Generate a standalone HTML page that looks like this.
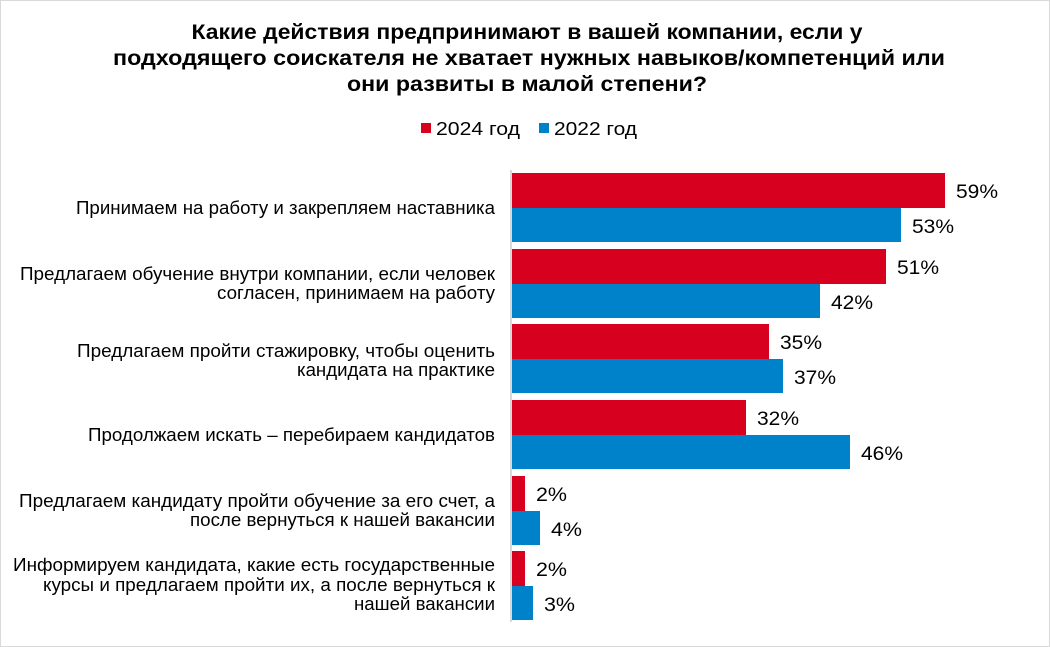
<!DOCTYPE html>
<html><head><meta charset="utf-8"><style>
body{margin:0;background:#fff}
svg{display:block}
text{font-family:"Liberation Sans","DejaVu Sans",sans-serif}
</style></head><body>
<svg width="1050" height="647" viewBox="0 0 1050 647">
<rect x="0.5" y="0.5" width="1049" height="646" fill="#fff" stroke="#d9d9d9"/>
<g font-weight="bold" font-size="21" text-anchor="middle" fill="#000">
<text x="527" y="39" textLength="671" lengthAdjust="spacingAndGlyphs">Какие действия предпринимают в вашей компании, если у</text>
<text x="529" y="65" textLength="832" lengthAdjust="spacingAndGlyphs">подходящего соискателя не хватает нужных навыков/компетенций или</text>
<text x="527" y="91" textLength="360" lengthAdjust="spacingAndGlyphs">они развиты в малой степени?</text>
</g>
<rect x="421" y="123" width="10" height="10" fill="#d7001f"/>
<text x="436" y="135" font-size="18" textLength="84" lengthAdjust="spacingAndGlyphs">2024 год</text>
<rect x="539" y="123" width="10" height="10" fill="#0082ca"/>
<text x="554" y="135" font-size="18" textLength="83" lengthAdjust="spacingAndGlyphs">2022 год</text>
<line x1="511" y1="170" x2="511" y2="622" stroke="#d9d9d9" stroke-width="2"/>
<g fill="#d7001f">
<rect x="512" y="173" width="433" height="35"/>
<rect x="512" y="249" width="374" height="35"/>
<rect x="512" y="324" width="257" height="35"/>
<rect x="512" y="400" width="234" height="35"/>
<rect x="512" y="476" width="13" height="35"/>
<rect x="512" y="551" width="13" height="35"/>
</g>
<g fill="#0082ca">
<rect x="512" y="208" width="389" height="34"/>
<rect x="512" y="284" width="308" height="34"/>
<rect x="512" y="359" width="271" height="34"/>
<rect x="512" y="435" width="338" height="34"/>
<rect x="512" y="511" width="28" height="34"/>
<rect x="512" y="586" width="21" height="34"/>
</g>
<g font-size="19" fill="#000">
<text x="956" y="198" textLength="42" lengthAdjust="spacingAndGlyphs">59%</text>
<text x="912" y="233" textLength="42" lengthAdjust="spacingAndGlyphs">53%</text>
<text x="897" y="274" textLength="42" lengthAdjust="spacingAndGlyphs">51%</text>
<text x="831" y="309" textLength="42" lengthAdjust="spacingAndGlyphs">42%</text>
<text x="780" y="349" textLength="42" lengthAdjust="spacingAndGlyphs">35%</text>
<text x="794" y="384" textLength="42" lengthAdjust="spacingAndGlyphs">37%</text>
<text x="757" y="425" textLength="42" lengthAdjust="spacingAndGlyphs">32%</text>
<text x="861" y="460" textLength="42" lengthAdjust="spacingAndGlyphs">46%</text>
<text x="536" y="501" textLength="31" lengthAdjust="spacingAndGlyphs">2%</text>
<text x="551" y="536" textLength="31" lengthAdjust="spacingAndGlyphs">4%</text>
<text x="536" y="576" textLength="31" lengthAdjust="spacingAndGlyphs">2%</text>
<text x="544" y="611" textLength="31" lengthAdjust="spacingAndGlyphs">3%</text>
</g>
<g font-size="18" fill="#000">
<text x="76" y="214" textLength="419" lengthAdjust="spacingAndGlyphs">Принимаем на работу и закрепляем наставника</text>
<text x="20" y="280" textLength="475" lengthAdjust="spacingAndGlyphs">Предлагаем обучение внутри компании,  если человек</text>
<text x="217" y="299" textLength="278" lengthAdjust="spacingAndGlyphs">согласен, принимаем на работу</text>
<text x="77" y="357" textLength="418" lengthAdjust="spacingAndGlyphs">Предлагаем пройти стажировку, чтобы оценить</text>
<text x="297" y="376" textLength="198" lengthAdjust="spacingAndGlyphs">кандидата  на практике</text>
<text x="88" y="441" textLength="407" lengthAdjust="spacingAndGlyphs">Продолжаем искать – перебираем кандидатов</text>
<text x="19" y="507" textLength="476" lengthAdjust="spacingAndGlyphs">Предлагаем кандидату  пройти  обучение за его счет, а</text>
<text x="190" y="526" textLength="305" lengthAdjust="spacingAndGlyphs">после вернуться к нашей вакансии</text>
<text x="13" y="571" textLength="482" lengthAdjust="spacingAndGlyphs">Информируем кандидата,  какие есть государственные</text>
<text x="43" y="591" textLength="452" lengthAdjust="spacingAndGlyphs">курсы и предлагаем пройти их, а после вернуться к</text>
<text x="354" y="610" textLength="141" lengthAdjust="spacingAndGlyphs">нашей вакансии</text>
</g>
</svg>
</body></html>
